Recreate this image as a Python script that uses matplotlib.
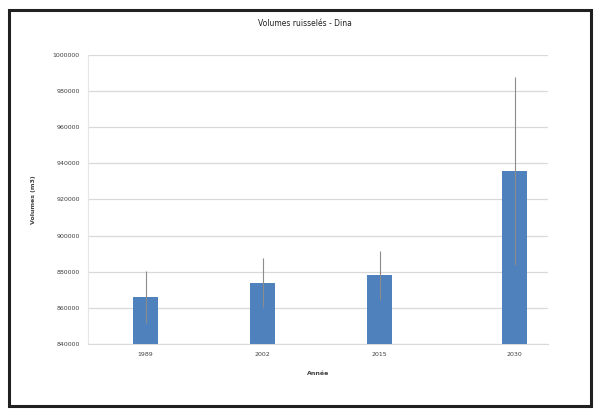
import matplotlib
matplotlib.use("Agg")
import matplotlib.pyplot as plt
from matplotlib.patches import Rectangle

years = [1989, 2002, 2015, 2030]
year_labels = ["1989", "2002", "2015", "2030"]
volumes = [866000, 874000, 878000, 936000]
errors = [14500, 13500, 13500, 52000]
yticks = [840000, 860000, 880000, 900000, 920000, 940000, 960000, 980000, 1000000]

fig = plt.figure(figsize=(5.98, 4.09), dpi=100)
fig.patch.set_facecolor("white")
ax = fig.add_axes([88/598, 1-344/409, (548-88)/598, (344-55)/409])

ax.bar(years, volumes, width=2.8, color="#4f81bd", zorder=3)
ax.errorbar(years, volumes, yerr=errors, fmt="none", ecolor="#8c8c8c",
            elinewidth=0.8, capsize=0, zorder=4)

ax.set_ylim(840000, 1000000)
ax.set_xlim(1982.6, 2033.7)
ax.set_yticks(yticks)
ax.set_yticklabels([str(v) for v in yticks], fontsize=4.5, color="#404040")
ax.set_xticks(years)
ax.set_xticklabels(year_labels, fontsize=4.5, color="#404040")
ax.tick_params(length=0, pad=6)
ax.grid(axis="y", color="#d9d9d9", lw=0.9, zorder=0)
for s in ["top", "right"]:
    ax.spines[s].set_visible(False)
ax.spines["left"].set_color("#e6e6e6")
ax.spines["bottom"].set_color("#d9d9d9")
ax.spines["left"].set_linewidth(0.8)

ax.set_ylabel("Volumes (m3)", fontsize=4.5, fontweight="bold", color="#404040", labelpad=12)
ax.set_xlabel("Année", fontsize=4.5, fontweight="bold", color="#404040", labelpad=10)
fig.text(305/598, 1-24/409, "Volumes ruisselés - Dina", fontsize=5.5, ha="center",
         va="center", color="#202020")

fig.patches.append(Rectangle((9/598, 1-406/409), (591-9)/598, (406-10)/409,
                             transform=fig.transFigure, fill=False,
                             edgecolor="#202020", lw=2.2))

fig.savefig("out.png", dpi=100)
